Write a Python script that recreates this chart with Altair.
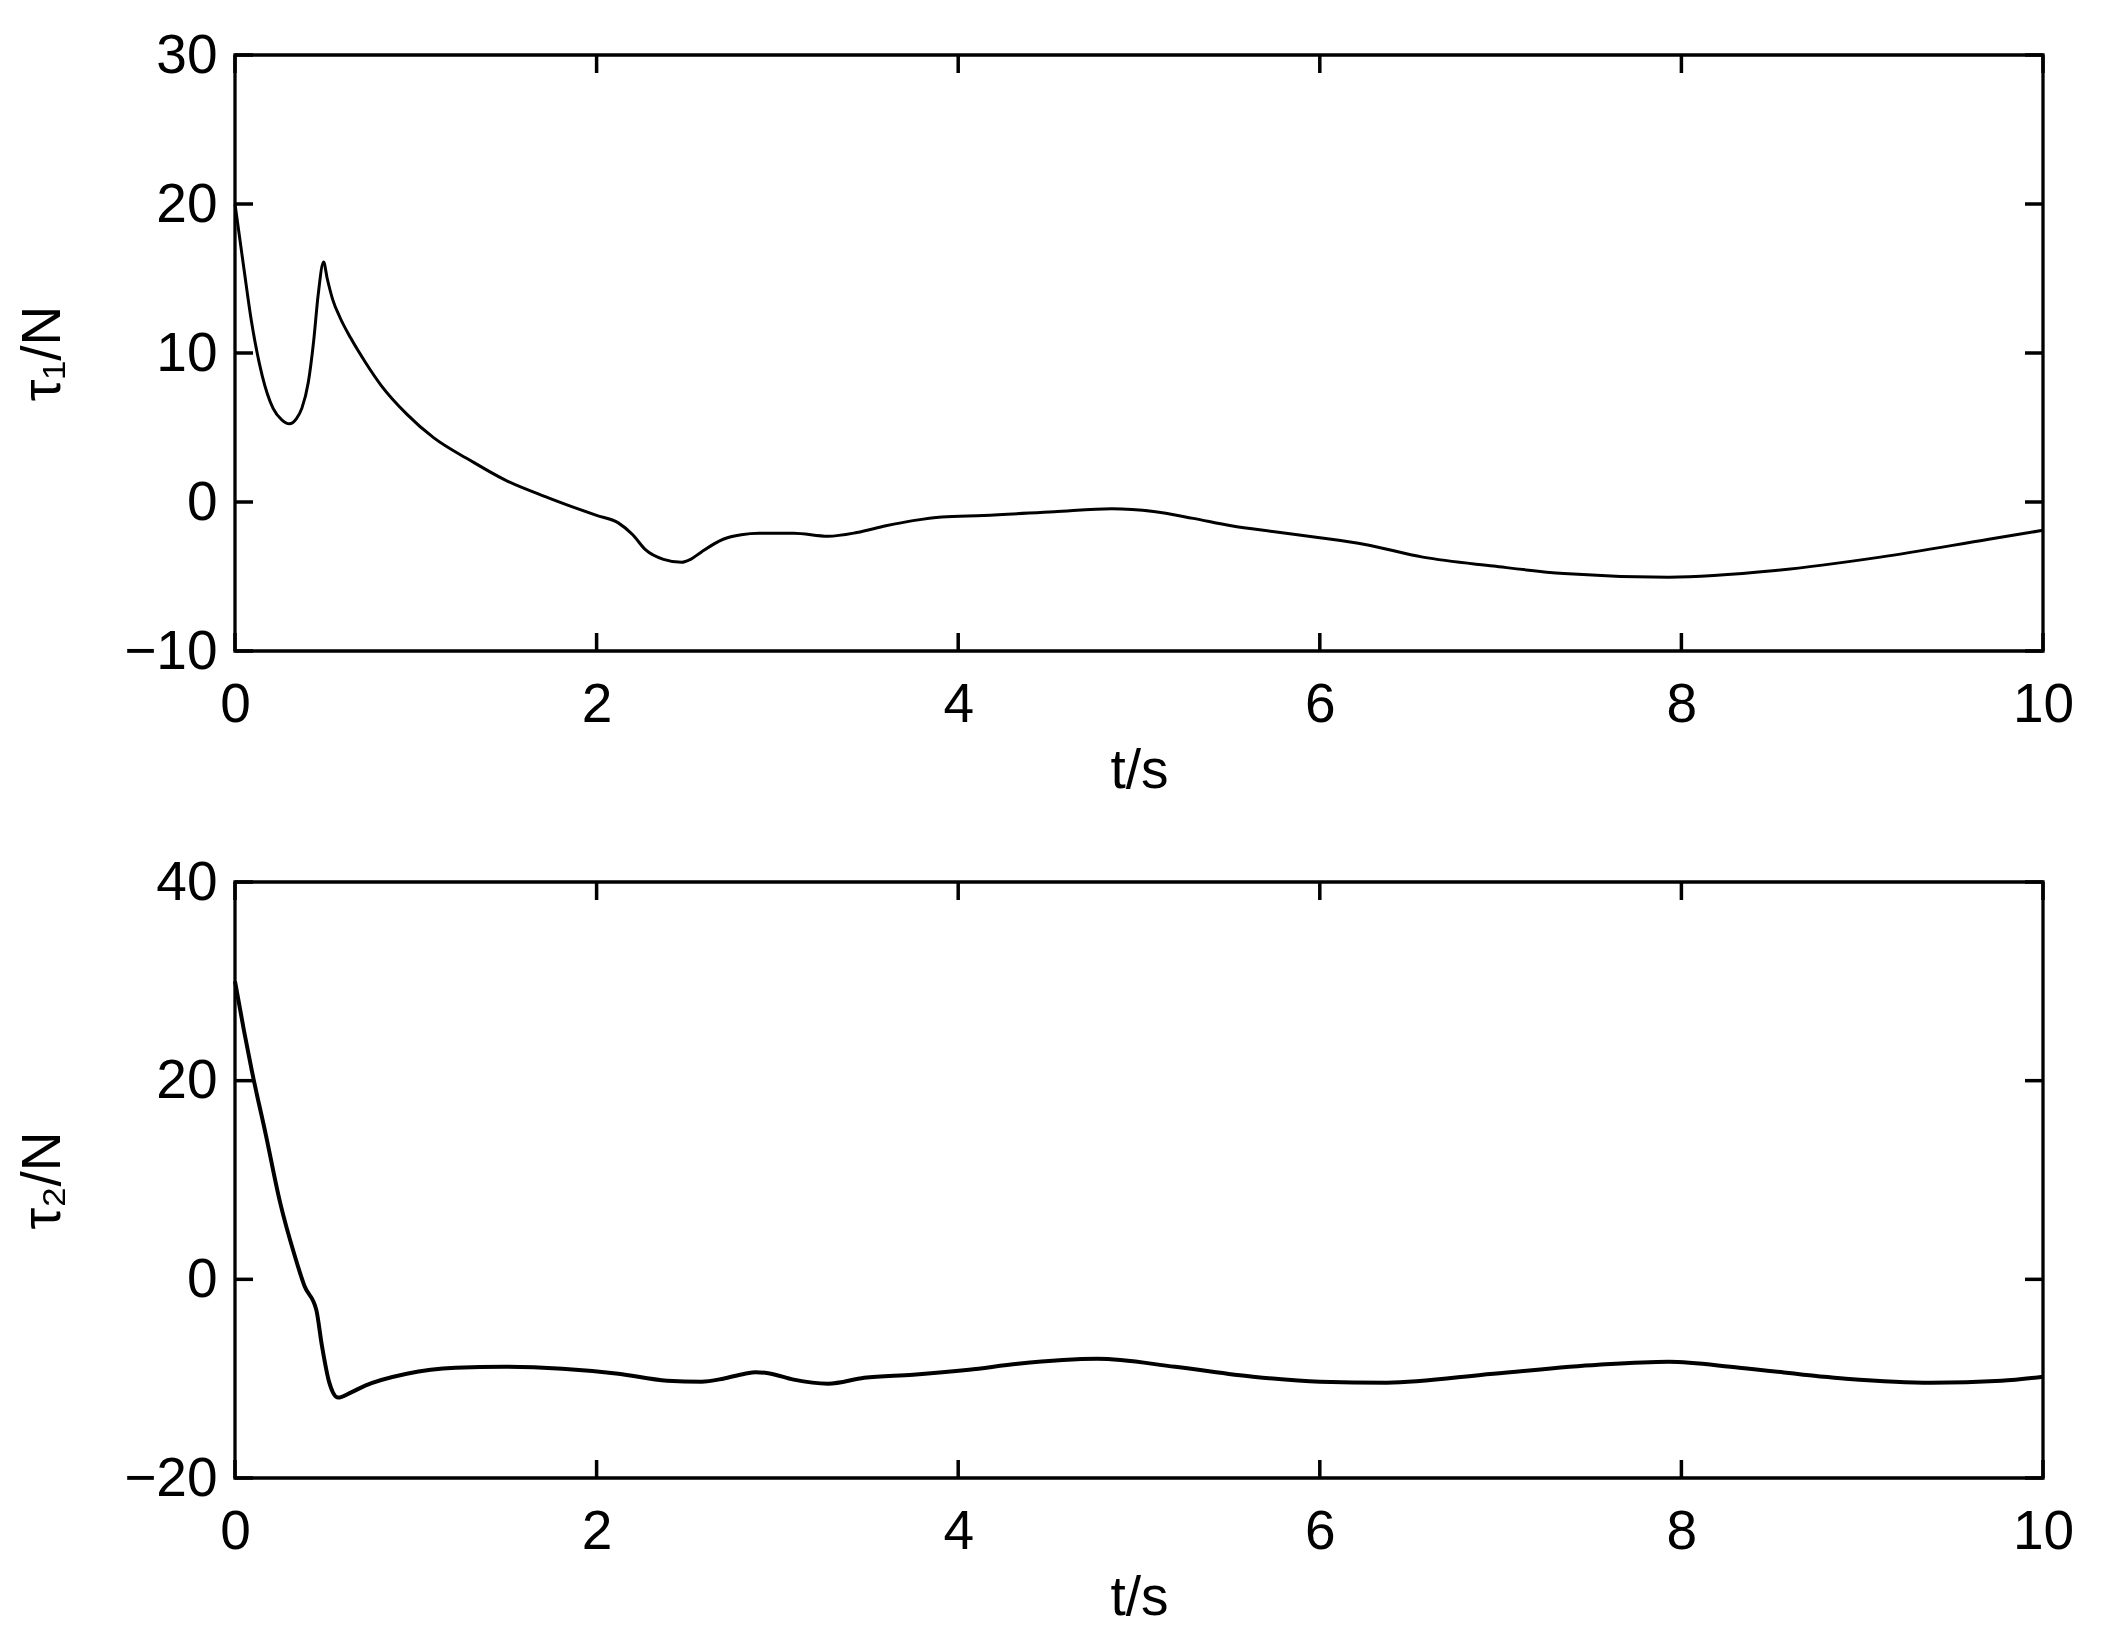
import altair as alt
import pandas as pd

# ---- data ----
t1 = [0, 0.05, 0.09, 0.15, 0.21, 0.26, 0.30, 0.34, 0.37, 0.405, 0.435, 0.46, 0.49,
      0.51, 0.54, 0.58, 0.64, 0.72, 0.81, 0.95, 1.10, 1.30, 1.49, 1.73, 2.00, 2.12, 2.20,
      2.27, 2.37, 2.47, 2.52, 2.58, 2.70, 2.80, 2.90, 3.09, 3.28, 3.44, 3.60, 3.75,
      3.91, 4.14, 4.53, 4.85, 5.08, 5.30, 5.51, 5.75, 6.00, 6.25, 6.57, 6.96, 7.35,
      7.93, 8.52, 9.10, 9.70, 10.0]
tau1 = [20.0, 15.6, 12.2, 8.5, 6.3, 5.5, 5.25, 5.6, 6.3, 8.0, 10.8, 13.9, 16.1,
        15.0, 13.6, 12.4, 11.0, 9.4, 7.8, 5.9, 4.3, 2.8, 1.5, 0.3, -0.9, -1.4, -2.2,
        -3.2, -3.85, -4.05, -3.85, -3.35, -2.5, -2.2, -2.1, -2.1, -2.3, -2.05, -1.6, -1.25,
        -1.0, -0.9, -0.65, -0.45, -0.63, -1.1, -1.6, -2.0, -2.4, -2.85, -3.7, -4.3, -4.8,
        -5.05, -4.6, -3.7, -2.5, -1.9]

t2 = [0, 0.05, 0.093, 0.17, 0.25, 0.33, 0.385, 0.45, 0.48, 0.52, 0.57, 0.64, 0.72,
      0.95, 1.22, 1.49, 1.81, 2.12, 2.39, 2.58, 2.70, 2.82, 2.88, 2.95, 3.09, 3.28, 3.48,
      3.75, 4.06, 4.33, 4.77, 5.20, 5.63, 6.00, 6.37, 6.96, 7.54, 7.93, 8.32, 8.91,
      9.38, 9.77, 10.0]
tau2 = [30.0, 25.0, 21.0, 14.6, 7.7, 2.4, -0.7, -3.1, -6.6, -10.3, -11.9, -11.4, -10.7,
        -9.5, -8.9, -8.8, -9.0, -9.5, -10.2, -10.3, -10.0, -9.5, -9.35, -9.45, -10.1, -10.5, -9.9,
        -9.6, -9.1, -8.5, -8.0, -8.8, -9.8, -10.3, -10.4, -9.5, -8.6, -8.3, -8.9, -10.0,
        -10.4, -10.2, -9.8]

x_ticks = [0, 2, 4, 6, 8, 10]
y1_ticks = [-10, 0, 10, 20, 30]
y2_ticks = [-20, 0, 20, 40]
x_title = "t/s"
y1_title = "τ₁/N"
y2_title = "τ₂/N"

W, H = 1808, 596
TICK = 18
FONT = "Liberation Sans"
FS = 55


def panel(t, v, y_ticks, y_title, line_w):
    df = pd.DataFrame({"t": t, "v": v})
    xdf = pd.DataFrame({"t": x_ticks})
    ydf = pd.DataFrame({"v": y_ticks})
    xs = alt.Scale(domain=[x_ticks[0], x_ticks[-1]], nice=False, zero=False)
    ys = alt.Scale(domain=[y_ticks[0], y_ticks[-1]], nice=False, zero=False)
    xa = alt.Axis(values=x_ticks, labelPadding=27, titlePadding=12)
    ya = alt.Axis(values=y_ticks, labelPadding=18, titlePadding=52)

    def X():
        return alt.X("t:Q", scale=xs, title=x_title, axis=xa)

    def Y():
        return alt.Y("v:Q", scale=ys, title=y_title, axis=ya)

    line = alt.Chart(df).mark_line(color="black", strokeWidth=line_w,
                                   interpolate="monotone").encode(x=X(), y=Y())
    rule_style = dict(color="black", strokeWidth=3.5)
    xb = alt.Chart(xdf).mark_rule(**rule_style).encode(
        x=X(), y=alt.value(H), y2=alt.value(H - TICK))
    xt = alt.Chart(xdf).mark_rule(**rule_style).encode(
        x=X(), y=alt.value(0), y2=alt.value(TICK))
    yl = alt.Chart(ydf).mark_rule(**rule_style).encode(
        y=Y(), x=alt.value(0), x2=alt.value(TICK))
    yr = alt.Chart(ydf).mark_rule(**rule_style).encode(
        y=Y(), x=alt.value(W - TICK), x2=alt.value(W))
    return alt.layer(line, xb, xt, yl, yr).properties(width=W, height=H)


top = panel(t1, tau1, y1_ticks, y1_title, 3)
bottom = panel(t2, tau2, y2_ticks, y2_title, 4)

chart = alt.vconcat(top, bottom, spacing=53).properties(
    padding={"left": 6, "top": 18, "right": 5, "bottom": 0},
    background="white",
).configure_view(
    stroke="black", strokeWidth=3.3
).configure_axis(
    domain=False, ticks=False, grid=False,
    labelFont=FONT, labelFontSize=FS, labelColor="black",
    titleFont=FONT, titleFontSize=FS, titleColor="black", titleFontWeight="normal",
    labelFlush=False, labelOverlap=False, labelBound=False,
)

chart.save("out.html", embed_options={"renderer": "svg", "actions": False})
